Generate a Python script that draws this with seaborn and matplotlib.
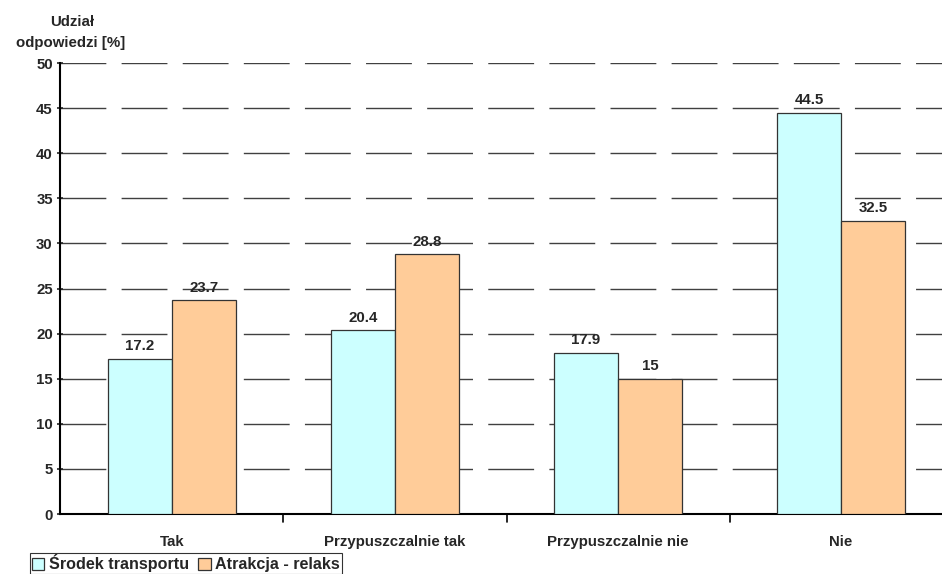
import matplotlib
matplotlib.use("Agg")
import matplotlib.pyplot as plt
import seaborn as sns
import pandas as pd

categories = ["Tak", "Przypuszczalnie tak", "Przypuszczalnie nie", "Nie"]
series_names = ["Środek transportu", "Atrakcja - relaks"]
transport = [17.2, 20.4, 17.9, 44.5]
relaks = [23.7, 28.8, 15, 32.5]
yticks = [0, 5, 10, 15, 20, 25, 30, 35, 40, 45, 50]

df = pd.DataFrame({
    "kategoria": categories * 2,
    "seria": [series_names[0]] * 4 + [series_names[1]] * 4,
    "udzial": transport + relaks,
})

sns.set_style("white")
plt.rcParams["font.family"] = ["Liberation Sans", "DejaVu Sans"]
plt.rcParams["font.weight"] = "bold"

FS = 10.8

fig = plt.figure(figsize=(9.42, 5.74), dpi=100)
ax = fig.add_axes([0.0642, 0.1045, 0.947, 0.7855])

palette = {series_names[0]: "#CCFFFF", series_names[1]: "#FFCC99"}
sns.barplot(data=df, x="kategoria", y="udzial", hue="seria", order=categories,
            hue_order=series_names, palette=palette, width=0.574,
            edgecolor="#333333", linewidth=0.9, saturation=1, ax=ax, zorder=3)

ax.set_ylim(0, 50)
ax.set_xlim(-0.5, 3.5)
ax.set_yticks(yticks)
ax.set_yticklabels([str(v) for v in yticks], fontsize=FS, fontweight="bold")
ax.set_xticks([0, 1, 2, 3])
ax.set_xticklabels(categories, fontsize=FS, fontweight="bold")
ax.tick_params(axis="x", length=0, pad=15)
ax.tick_params(axis="y", length=5, width=1.2, direction="inout", pad=3, left=True)

# boundary ticks between categories
for b in [0.5, 1.5, 2.5]:
    ax.plot([b, b], [0, -0.9], color="black", lw=1.2, clip_on=False, zorder=5)

ax.yaxis.grid(True, color="#404040", linewidth=1.0, linestyle=(0, (33, 11)), zorder=0)
ax.xaxis.grid(False)
ax.set_xlabel("")
ax.set_ylabel("")
for side in ["top", "right"]:
    ax.spines[side].set_visible(False)
ax.spines["left"].set_linewidth(1.5)
ax.spines["bottom"].set_linewidth(1.5)
ax.spines["left"].set_color("black")
ax.spines["bottom"].set_color("black")

for cont in ax.containers:
    ax.bar_label(cont, labels=[f"{v:g}" for v in cont.datavalues], padding=4,
                 fontsize=FS, fontweight="bold")

fig.text(0.077, 0.962, "Udział", ha="center", va="center",
         fontsize=FS, fontweight="bold")
fig.text(0.075, 0.925, "odpowiedzi [%]", ha="center", va="center",
         fontsize=FS, fontweight="bold")

leg = ax.legend(loc="upper left", bbox_to_anchor=(0.032, 0.037),
                bbox_transform=fig.transFigure, ncol=2,
                frameon=True, fancybox=False, edgecolor="black", fontsize=11.6,
                handlelength=0.75, handleheight=0.75, handletextpad=0.3,
                columnspacing=0.6, borderpad=0.1, borderaxespad=0)
leg.get_frame().set_linewidth(0.8)
for t in leg.get_texts():
    t.set_fontweight("bold")

fig.savefig("out.png", dpi=100)
